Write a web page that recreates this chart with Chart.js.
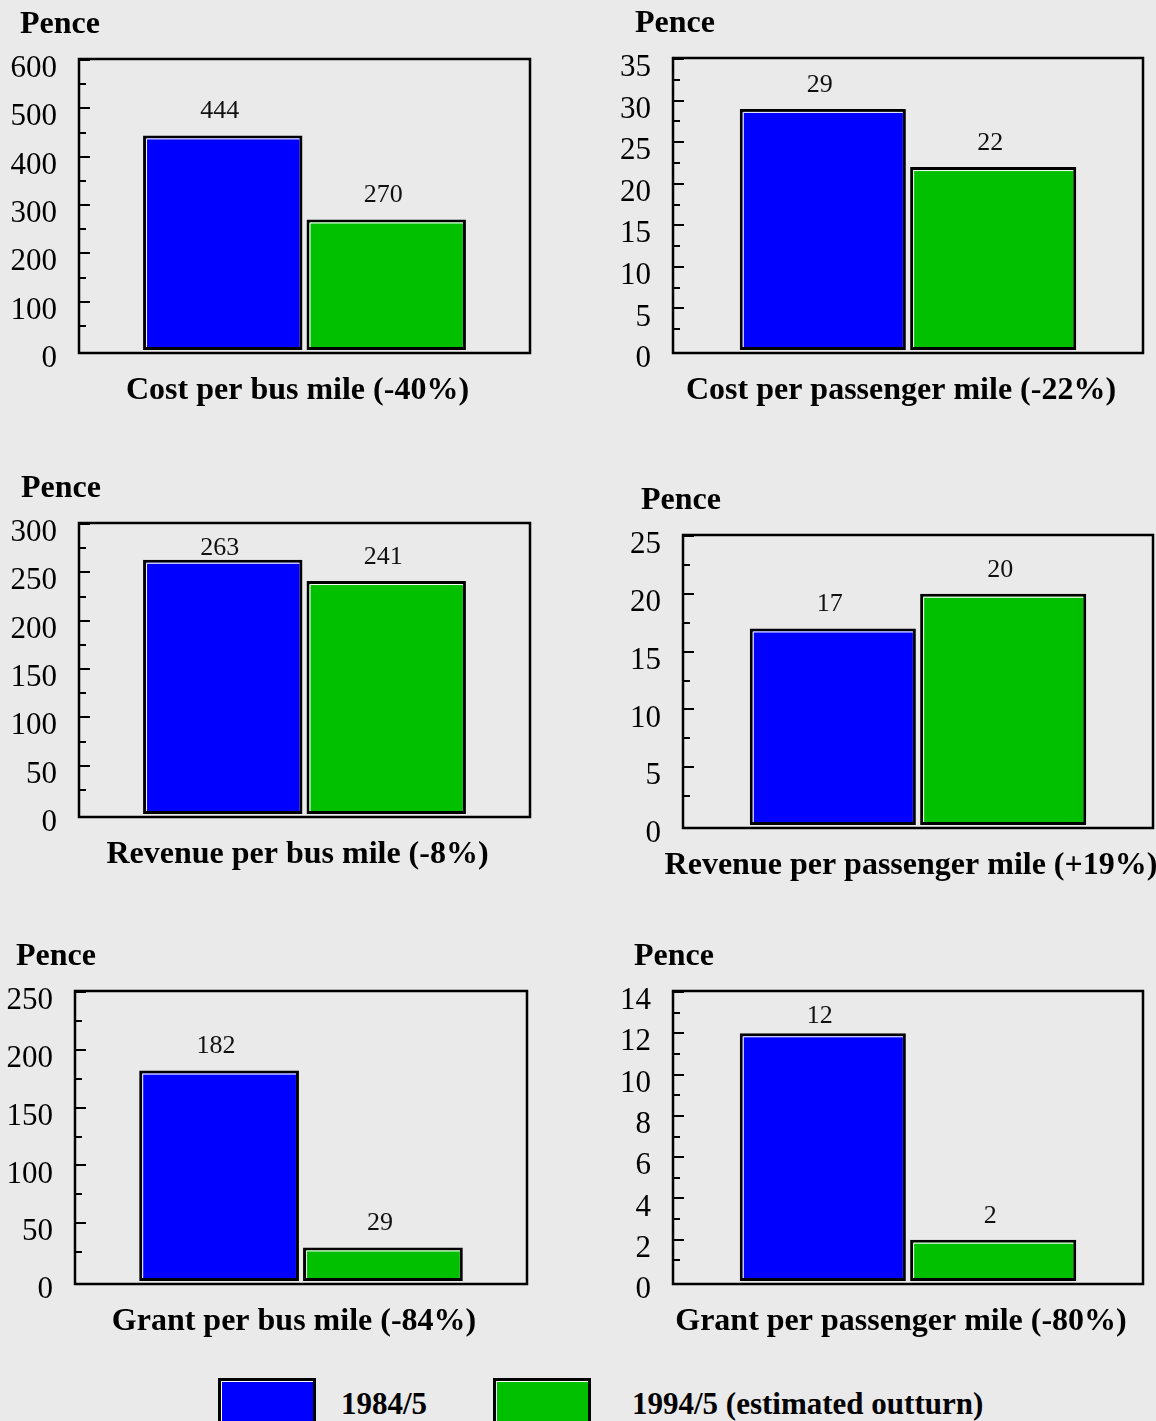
<!DOCTYPE html>
<html>
<head>
<meta charset="utf-8">
<script src="https://cdn.jsdelivr.net/npm/chart.js@4.4.1/dist/chart.umd.min.js"></script>
<style>
  body { margin: 0; background: #eaeaea; width: 1156px; height: 1421px; position: relative; overflow: hidden; }
  canvas { position: absolute; }
  .swatch { position: absolute; top: 1378px; width: 92px; height: 40px; border: 3px solid #000; box-shadow: inset 1px 1px 0 #fff; }
  .keytext { position: absolute; top: 1388px; font: bold 31px "Liberation Serif", serif; line-height: 31px; color: #000; white-space: nowrap; }
</style>
</head>
<body>
<div class="swatch" style="left:218px; background:#0000ff"></div>
<div class="keytext" id="key0" style="left:341px"></div>
<div class="swatch" style="left:493px; background:#00c000"></div>
<div class="keytext" id="key1" style="left:632px"></div>

<script>
// data
const seriesNames = ['1984/5', '1994/5 (estimated outturn)'];
const captions = [
  'Cost per bus mile (-40%)',
  'Cost per passenger mile (-22%)',
  'Revenue per bus mile (-8%)',
  'Revenue per passenger mile (+19%)',
  'Grant per bus mile (-84%)',
  'Grant per passenger mile (-80%)'
];
const values1984 = [444, 29, 263, 17, 182, 12];
const values1994 = [270, 22, 241, 20, 29, 2];
const yMax = [600, 35, 300, 25, 250, 14];
const majorStep = [100, 5, 50, 5, 50, 2];
const minorStep = [50, 2.5, 25, 2.5, 25, 1];
const yTitle = 'Pence';

const colours = ['#0000ff', '#00c000'];
const serif = '"Liberation Serif", "Times New Roman", serif';

// plot boxes on the page
const boxes = [
  {l: 79,  t: 60,  r: 530,  b: 350,  col: 0,   pence: 20},
  {l: 673, t: 59,  r: 1143, b: 350,  col: 590, pence: 45},
  {l: 79,  t: 524, r: 530,  b: 814,  col: 0,   pence: 21},
  {l: 683, t: 536, r: 1153, b: 825,  col: 590, pence: 51},
  {l: 75,  t: 992, r: 527,  b: 1281, col: 0,   pence: 16},
  {l: 673, t: 992, r: 1143, b: 1281, col: 590, pence: 44}
];
const PAD = 62;

document.getElementById('key0').textContent = seriesNames[0];
document.getElementById('key1').textContent = seriesNames[1];

const panelDecor = {
  id: 'panelDecor',
  afterDraw(chart) {
    const ctx = chart.ctx;
    const a = chart.chartArea;
    const o = chart.options.plugins.panelDecor;
    const ys = chart.scales.y;
    ctx.save();
    // frame
    ctx.strokeStyle = '#000';
    ctx.lineWidth = 2.5;
    ctx.strokeRect(a.left, a.top - 1, a.right - a.left, a.bottom + 3 - (a.top - 1));
    // inside tick marks
    ctx.lineWidth = 2;
    ys.ticks.forEach(t => {
      if (t.value === 0) return;
      const py = Math.round(ys.getPixelForValue(t.value));
      const len = (Math.abs(t.value % o.major) < 1e-6) ? 11 : 7;
      ctx.beginPath();
      ctx.moveTo(a.left, py);
      ctx.lineTo(a.left + len, py);
      ctx.stroke();
    });
    // bar highlights and value labels
    chart.data.datasets.forEach((ds, di) => {
      const meta = chart.getDatasetMeta(di);
      meta.data.forEach((bar, i) => {
        const left = bar.x - bar.width / 2;
        ctx.strokeStyle = '#ffffff';
        ctx.lineWidth = 1;
        ctx.beginPath();
        ctx.moveTo(left + 3.5, bar.base - 3);
        ctx.lineTo(left + 3.5, bar.y + 3.5);
        ctx.lineTo(left + bar.width - 3, bar.y + 3.5);
        ctx.stroke();
        ctx.fillStyle = '#111';
        ctx.font = '26px ' + serif;
        ctx.textAlign = 'center';
        ctx.textBaseline = 'middle';
        const ly = Math.max(bar.y - 24, a.top + 24);
        ctx.fillText(String(ds.data[i]), bar.x - 3, ly);
      });
    });
    // titles
    ctx.fillStyle = '#000';
    ctx.font = 'bold 32px ' + serif;
    ctx.textAlign = 'left';
    ctx.textBaseline = 'middle';
    ctx.fillText(yTitle, o.penceX, a.top - 35);
    ctx.textAlign = 'center';
    ctx.fillText(chart.data.labels[0], (a.left + a.right) / 2 - 7, a.bottom + 41);
    ctx.restore();
  }
};

boxes.forEach((bx, i) => {
  const cv = document.createElement('canvas');
  const w = bx.r + 3 - bx.col;
  const h = (bx.b + PAD) - (bx.t - PAD);
  cv.width = w;
  cv.height = h;
  cv.style.left = bx.col + 'px';
  cv.style.top = (bx.t - PAD) + 'px';
  cv.style.width = w + 'px';
  cv.style.height = h + 'px';
  document.body.appendChild(cv);

  new Chart(cv, {
    type: 'bar',
    data: {
      labels: [captions[i]],
      datasets: [
        {label: seriesNames[0], data: [values1984[i]], backgroundColor: colours[0]},
        {label: seriesNames[1], data: [values1994[i]], backgroundColor: colours[1]}
      ]
    },
    options: {
      responsive: false,
      animation: false,
      devicePixelRatio: 1,
      layout: {padding: {top: PAD, bottom: PAD, left: 0, right: 3}},
      datasets: {
        bar: {
          borderColor: '#000',
          borderWidth: 3,
          borderSkipped: false,
          categoryPercentage: 0.725,
          barPercentage: 0.975
        }
      },
      scales: {
        x: {display: false},
        y: {
          min: 0,
          max: yMax[i],
          grid: {display: false, drawTicks: false},
          border: {display: false},
          ticks: {
            stepSize: minorStep[i],
            autoSkip: false,
            padding: 22,
            labelOffset: 9,
            color: '#000',
            font: {family: serif, size: 31},
            callback: v => (Math.abs(v % majorStep[i]) < 1e-6) ? String(v) : ''
          },
          afterFit: s => { s.width = bx.l - bx.col; }
        }
      },
      plugins: {
        legend: {display: false},
        tooltip: {enabled: false},
        panelDecor: {major: majorStep[i], penceX: bx.pence}
      }
    },
    plugins: [panelDecor]
  });
});
</script>
</body>
</html>
